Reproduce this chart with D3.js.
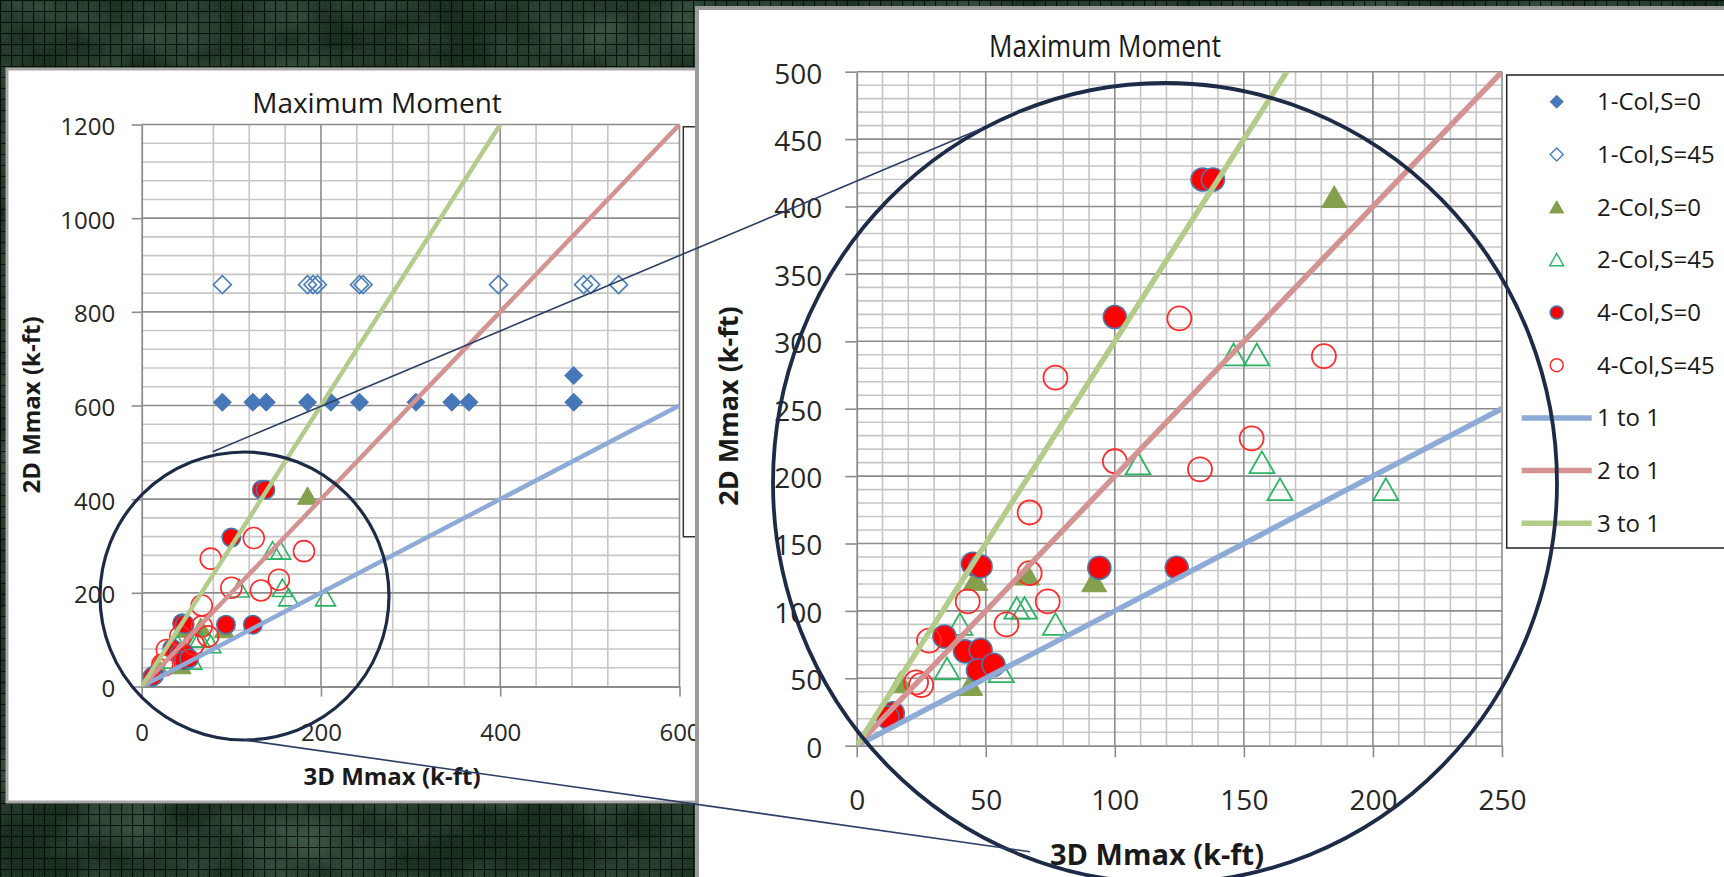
<!DOCTYPE html>
<html><head><meta charset="utf-8">
<script src="https://cdn.jsdelivr.net/npm/d3@7"></script>
<style>
html,body{margin:0;padding:0;background:#17291d;overflow:hidden}
svg{display:block}
</style></head>
<body>
<svg id="c" width="1724" height="877"></svg>
<script>
// ---------------- DATA ----------------
const seriesNames = ["1-Col,S=0","1-Col,S=45","2-Col,S=0","2-Col,S=45","4-Col,S=0","4-Col,S=45"];
const lineNames = ["1 to 1","2 to 1","3 to 1"];

const col1S0 = [[90,607],[124,607],[139,607],[185,607],[211,607],[243,607],[306,607],[346,607],[365,607],[482,607],[482,664]];
const col1S45 = [[90,858],[185,858],[191,858],[196,858],[243,858],[247,858],[398,858],[493,858],[501,858],[532,858]];
const col2S0 = [[185,407],[46,123],[66,127],[92,122],[44,45],[17,47]];
const col2S45 = [[146,290],[155,290],[109,209],[157,210],[164,190],[205,190],[62,102],[65,102],[77,90],[40,90],[35,57],[56,55]];
const col4S0 = [[134,420],[138,420],[100,318],[45,135],[48,133],[94,132],[124,132],[34,81],[42,70],[48,71],[47,56],[53,60],[14,24],[12,21]];
const col4S45 = [[125,317],[181,289],[77,273],[153,228],[100,211],[133,205],[67,173],[67,128],[43,107],[74,107],[58,90],[28,78],[23,47],[25,45]];

const line1to1 = [[0,0],[600,600]];
const line2to1 = [[0,0],[600,1200]];
const line3to1 = [[0,0],[400,1200]];

const leftXTicks = [0,200,400,600];
const leftYTicks = [0,200,400,600,800,1000,1200];
const rightXTicks = [0,50,100,150,200,250];
const rightYTicks = [0,50,100,150,200,250,300,350,400,450,500];

const chartTitle = "Maximum Moment";
const xTitle = "3D Mmax (k-ft)";
const yTitle = "2D Mmax (k-ft)";

// ---------------- STYLE ----------------
const FONT = "'Open Sans','Liberation Sans',sans-serif";
const C = {
  d1:"#4677b8", d1o:"#4a7ebb", t2:"#84a04c", t2o:"#2bb463", c4:"#ff0000", c4edge:"#4a78ad", c4o:"#ff2a2a",
  l1:"#8eaad6", l2:"#d39392", l3:"#b4cc8a", minor:"#c6c6c6", major:"#8c8c8c", ring:"#1e2b47", conn:"#2c3e64"
};
const seriesStyle = [
  {data:col1S0, type:"diamond", fill:C.d1, stroke:C.d1},
  {data:col1S45, type:"diamond", fill:"none", stroke:C.d1o},
  {data:col2S0, type:"tri", fill:C.t2, stroke:C.t2},
  {data:col2S45, type:"tri", fill:"none", stroke:C.t2o},
  {data:col4S0, type:"circle", fill:C.c4, stroke:C.c4edge},
  {data:col4S45, type:"circle", fill:"none", stroke:C.c4o}
];
const lineStyle = [
  {data:line1to1, color:C.l1},
  {data:line2to1, color:C.l2},
  {data:line3to1, color:C.l3}
];

const svg = d3.select("#c");
const defs = svg.append("defs");

// ---------------- BACKGROUND ----------------
const pat = defs.append("pattern").attr("id","bggrid").attr("width",11).attr("height",11).attr("patternUnits","userSpaceOnUse");
pat.append("path").attr("d","M0 0.5H11M0.5 0V11").attr("stroke","#030905").attr("stroke-width",1.2).attr("opacity",0.85);
pat.append("path").attr("d","M3 3h1v1h-1zM7 7h1v1h-1zM3 7h1v1h-1zM7 3h1v1h-1z").attr("fill","#4a6a52").attr("opacity",0.35);
const filt = defs.append("filter").attr("id","marble").attr("x",0).attr("y",0).attr("width","100%").attr("height","100%");
filt.append("feTurbulence").attr("type","fractalNoise").attr("baseFrequency","0.012 0.016").attr("numOctaves",4).attr("seed",7);
filt.append("feColorMatrix").attr("type","matrix")
  .attr("values","0 0 0 0 0.20  0 0 0 0 0.32  0 0 0 0 0.23  1.4 0 0 0 -0.45");
svg.append("rect").attr("width",1724).attr("height",877).attr("fill","#1a2e20");
svg.append("rect").attr("width",1724).attr("height",877).attr("filter","url(#marble)").attr("opacity",0.45);
svg.append("rect").attr("width",1724).attr("height",877).attr("fill","url(#bggrid)");

// ---------------- HELPERS ----------------
function markerPath(type, s){
  if(type==="diamond") return `M0,${-s/2}L${s/2},0L0,${s/2}L${-s/2},0Z`;
  if(type==="tri") return `M0,${-s*0.45}L${s/2},${s*0.42}L${-s/2},${s*0.42}Z`;
  return null;
}
function drawPlot(g, xs, ys, opts){
  const [x0,x1] = xs.range(), [y0,y1] = ys.range();
  const gg = g.append("g");
  gg.selectAll(".mx").data(opts.minorX).join("line")
    .attr("x1",d=>xs(d)).attr("x2",d=>xs(d)).attr("y1",y0).attr("y2",y1)
    .attr("stroke",C.minor).attr("stroke-width",1.6);
  gg.selectAll(".my").data(opts.minorY).join("line")
    .attr("y1",d=>ys(d)).attr("y2",d=>ys(d)).attr("x1",x0).attr("x2",x1)
    .attr("stroke",C.minor).attr("stroke-width",1.6);
  gg.selectAll(".Mx").data(opts.majorX).join("line")
    .attr("x1",d=>xs(d)).attr("x2",d=>xs(d)).attr("y1",y0).attr("y2",y1)
    .attr("stroke",C.major).attr("stroke-width",1.6);
  gg.selectAll(".My").data(opts.majorY).join("line")
    .attr("y1",d=>ys(d)).attr("y2",d=>ys(d)).attr("x1",x0).attr("x2",x1)
    .attr("stroke",C.major).attr("stroke-width",1.6);

  const fmt = d3.format("d");
  const ax = g.append("g").attr("transform",`translate(0,${y0})`)
    .call(d3.axisBottom(xs).tickValues(opts.xTicks).tickFormat(fmt).tickSizeInner(opts.tick).tickSizeOuter(0).tickPadding(opts.xPad));
  const ay = g.append("g").attr("transform",`translate(${x0},0)`)
    .call(d3.axisLeft(ys).tickValues(opts.yTicks).tickFormat(fmt).tickSizeInner(opts.tick).tickSizeOuter(0).tickPadding(opts.yPad));
  [ax,ay].forEach(a=>{
    a.select(".domain").attr("stroke",C.major).attr("stroke-width",1.8);
    a.selectAll(".tick line").attr("stroke",C.major).attr("stroke-width",1.6);
    a.selectAll("text").attr("font-family",FONT).attr("font-size",opts.fs).attr("fill","#262626");
  });
  ay.selectAll("text").attr("dy","0.41em");

  const clipId = opts.id+"clip";
  defs.append("clipPath").attr("id",clipId).append("rect")
    .attr("x",x0-14).attr("y",y1-14).attr("width",x1-x0+28).attr("height",y0-y1+28);
  const lineClip = opts.id+"lclip";
  defs.append("clipPath").attr("id",lineClip).append("rect")
    .attr("x",x0).attr("y",y1).attr("width",x1-x0).attr("height",y0-y1);
  const sg = g.append("g").attr("clip-path",`url(#${clipId})`);
  const inside = d => d[0]>=xs.domain()[0] && d[0]<=xs.domain()[1] && d[1]>=ys.domain()[0] && d[1]<=ys.domain()[1];
  seriesStyle.forEach(s=>{
    const pts = s.data.filter(inside);
    if(s.type==="circle"){
      const filled = s.fill!=="none";
      sg.append("g").selectAll("circle").data(pts).join("circle")
        .attr("cx",d=>xs(d[0])).attr("cy",d=>ys(d[1]))
        .attr("r", filled ? opts.rF : opts.rO)
        .attr("fill",s.fill).attr("stroke",s.stroke).attr("stroke-width", filled?1.6:opts.sw);
    } else {
      const size = s.type==="diamond" ? opts.dia : opts.tri;
      sg.append("g").selectAll("path").data(pts).join("path")
        .attr("transform",d=>`translate(${xs(d[0])},${ys(d[1])})`)
        .attr("d",markerPath(s.type,size))
        .attr("fill",s.fill).attr("stroke",s.stroke).attr("stroke-width", s.fill==="none"?opts.sw:1);
    }
  });
  const lg = g.append("g").attr("clip-path",`url(#${lineClip})`);
  const ln = d3.line().x(d=>xs(d[0])).y(d=>ys(d[1]));
  lineStyle.forEach(l=>{
    lg.append("path").attr("d",ln(l.data)).attr("fill","none")
      .attr("stroke",l.color).attr("stroke-width",opts.lw).attr("stroke-linecap","butt");
  });
}

// ---------------- LEFT PANEL ----------------
svg.append("rect").attr("x",7).attr("y",69).attr("width",720).attr("height",733)
  .attr("fill","#ffffff").attr("stroke","#a8a8a8").attr("stroke-width",3);
const xL = d3.scaleLinear().domain([0,600]).range([141.7,679.5]);
const yL = d3.scaleLinear().domain([0,1200]).range([686.5,124.5]);
const gL = svg.append("g");
drawPlot(gL, xL, yL, {
  id:"L",
  minorX: d3.range(40,600,40).filter(v=>v%200!==0 && v!==40 && v!==560),
  minorY: d3.range(40,1200,40).filter(v=>v%200!==0),
  majorX: [200,400,600], majorY: [200,400,600,800,1000,1200],
  xTicks:leftXTicks, yTicks:leftYTicks, tick:10, xPad:27, yPad:16.5, fs:24,
  rF:9.2, rO:10.5, dia:18, tri:20, sw:1.6, lw:4.5
});
gL.append("text").attr("x",377).attr("y",113).attr("text-anchor","middle")
  .attr("font-family",FONT).attr("font-size",28).attr("fill","#1a1a1a").text(chartTitle);
gL.append("text").attr("x",392).attr("y",785).attr("text-anchor","middle")
  .attr("font-family",FONT).attr("font-weight",700).attr("font-size",24).attr("fill","#1a1a1a").text(xTitle);
gL.append("text").attr("transform","translate(40,405) rotate(-90)").attr("text-anchor","middle")
  .attr("font-family",FONT).attr("font-weight",700).attr("font-size",24).attr("fill","#1a1a1a").text(yTitle);
gL.append("path").attr("d","M697,126.7H683.3V536.7H697").attr("fill","none").attr("stroke","#333").attr("stroke-width",1.5);
svg.append("ellipse").attr("cx",244.5).attr("cy",596).attr("rx",144.5).attr("ry",144)
  .attr("fill","none").attr("stroke",C.ring).attr("stroke-width",3.2);

// ---------------- RIGHT PANEL ----------------
svg.append("rect").attr("x",697).attr("y",8).attr("width",1100).attr("height",900)
  .attr("fill","#ffffff").attr("stroke","#9a9a9a").attr("stroke-width",4);
const xR = d3.scaleLinear().domain([0,250]).range([856.7,1502]);
const yR = d3.scaleLinear().domain([0,500]).range([745.7,71.7]);
const gR = svg.append("g");
drawPlot(gR, xR, yR, {
  id:"R",
  minorX: d3.range(10,250,10).filter(v=>v%50!==0),
  minorY: d3.range(10,500,10).filter(v=>v%50!==0),
  majorX: [50,100,150,200,250], majorY: [50,100,150,200,250,300,350,400,450,500],
  xTicks:rightXTicks, yTicks:rightYTicks, tick:11.5, xPad:33, yPad:23, fs:28,
  rF:11.5, rO:12, dia:20, tri:25, sw:1.8, lw:5.5
});
gR.append("text").attr("transform","translate(1105,57) scale(0.84,1)").attr("text-anchor","middle")
  .attr("font-family",FONT).attr("font-size",31).attr("fill","#1a1a1a").text(chartTitle);
gR.append("text").attr("x",1157).attr("y",865).attr("text-anchor","middle")
  .attr("font-family",FONT).attr("font-weight",700).attr("font-size",29).attr("fill","#1a1a1a").text(xTitle);
gR.append("text").attr("transform","translate(738,406) rotate(-90)").attr("text-anchor","middle")
  .attr("font-family",FONT).attr("font-weight",700).attr("font-size",27).attr("fill","#1a1a1a").text(yTitle);

const lgd = gR.append("g");
lgd.append("rect").attr("x",1506.7).attr("y",75).attr("width",300).attr("height",473)
  .attr("fill","#fff").attr("stroke","#222").attr("stroke-width",1.5);
const legendItems = seriesStyle.map((s,i)=>({name:seriesNames[i], s}))
  .concat(lineStyle.map((l,i)=>({name:lineNames[i], l})));
legendItems.forEach((it,i)=>{
  const cy = 101.7 + i*52.7;
  if(it.s){
    const s = it.s;
    if(s.type==="circle"){
      lgd.append("circle").attr("cx",1556.7).attr("cy",cy).attr("r",6.5)
        .attr("fill",s.fill).attr("stroke",s.stroke).attr("stroke-width",1.5);
    } else {
      lgd.append("path").attr("transform",`translate(1556.7,${cy})`)
        .attr("d",markerPath(s.type, s.type==="diamond"?13:14))
        .attr("fill",s.fill).attr("stroke",s.stroke).attr("stroke-width",s.fill==="none"?1.4:1);
    }
  } else {
    lgd.append("line").attr("x1",1521.7).attr("x2",1591.7).attr("y1",cy).attr("y2",cy)
      .attr("stroke",it.l.color).attr("stroke-width",5.5);
  }
  lgd.append("text").attr("x",1597).attr("y",cy+8.5)
    .attr("font-family",FONT).attr("font-size",24).attr("fill","#1a1a1a").text(it.name);
});

svg.append("ellipse").attr("cx",1165).attr("cy",483).attr("rx",392).attr("ry",400)
  .attr("fill","none").attr("stroke",C.ring).attr("stroke-width",3.8);

svg.append("line").attr("x1",212.7).attr("y1",451.7).attr("x2",983).attr("y2",128)
  .attr("stroke",C.conn).attr("stroke-width",1.6);
svg.append("line").attr("x1",244).attr("y1",740).attr("x2",1030).attr("y2",851.7)
  .attr("stroke",C.conn).attr("stroke-width",1.6);
</script>
</body></html>
